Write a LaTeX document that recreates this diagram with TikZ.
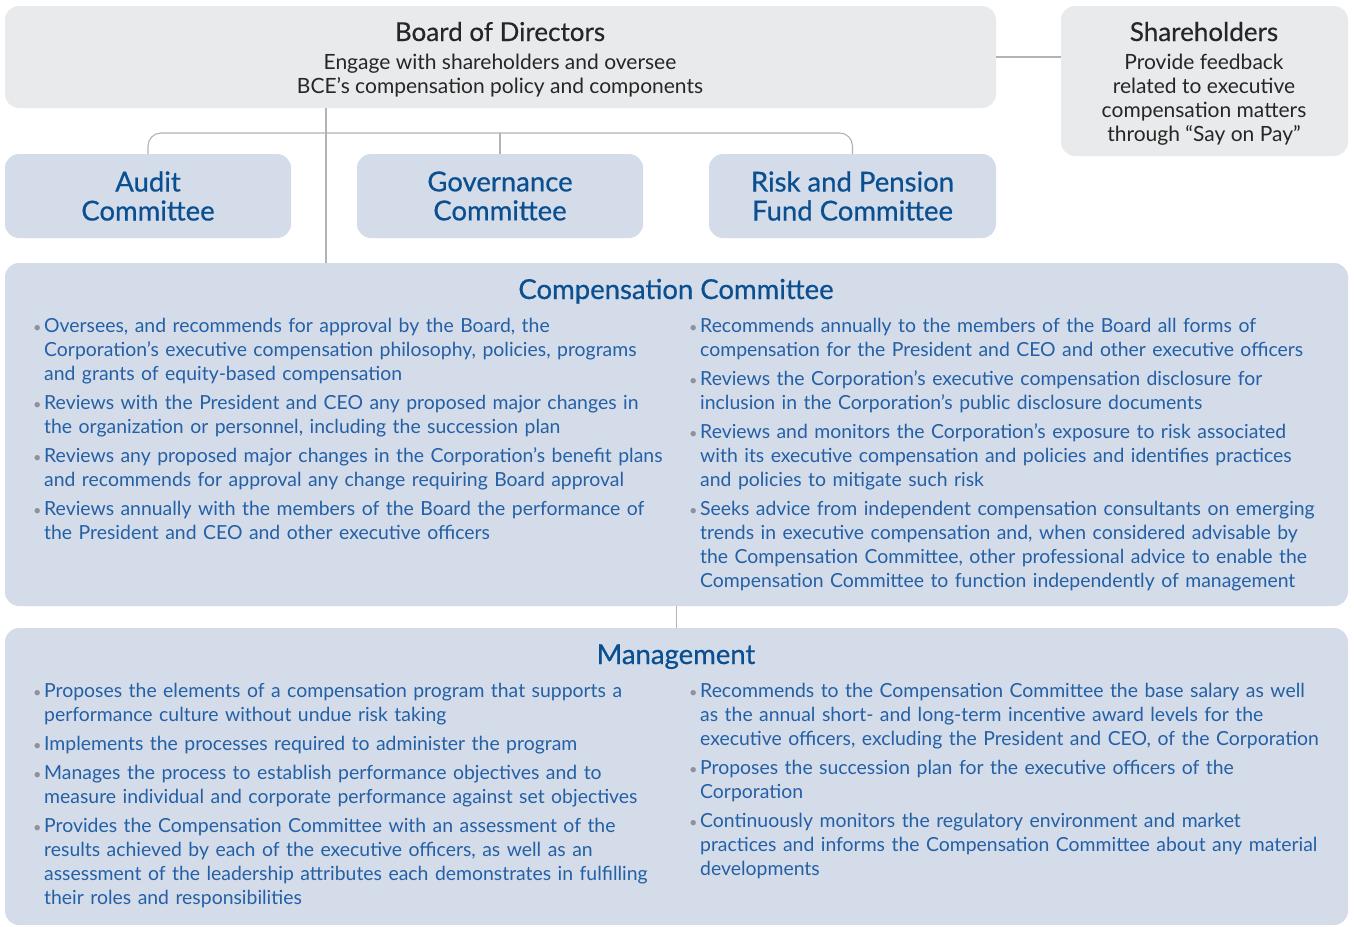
\documentclass[tikz,border=0pt]{standalone}
\usepackage{fontspec}
\setmainfont{Lato}
\definecolor{boardgray}{HTML}{E9EAEB}
\definecolor{panelblue}{HTML}{D4DCEA}
\definecolor{linegray}{HTML}{B3B3B3}
\definecolor{headblue}{HTML}{0A4F8F}
\definecolor{bodyblue}{HTML}{2360A5}
\definecolor{dotgray}{HTML}{8C939C}
\definecolor{inkgray}{HTML}{262626}

% one bullet point; the whole column is indented by \leftskip
\newcommand{\itm}[1]{\noindent\strut\llap{\makebox[11pt][l]{\hspace{0pt}\textcolor{dotgray}{\scalebox{0.75}{\textbullet}}}}#1\par}
\newcommand{\itmgap}{\vspace{5pt}}
\newcommand{\bodyfont}{\fontsize{19.4}{24}\selectfont}

\begin{document}
\begin{tikzpicture}[x=1pt,y=-1pt,
  boxbase/.style={rounded corners=14pt, inner sep=0pt, outer sep=0pt, anchor=north west},
  graybox/.style={boxbase, fill=boardgray},
  bluebox/.style={boxbase, fill=panelblue},
  link/.style={draw=linegray, line width=1.1pt},
  headtext/.style={font=\fontsize{27.5}{29}\selectfont\addfontfeatures{FakeBold=0.6}, text=headblue, align=center, inner sep=0pt},
  boardhead/.style={font=\fontsize{26}{28}\selectfont\addfontfeatures{FakeBold=0.4}, text=inkgray, align=center, inner sep=0pt},
  boardbody/.style={font=\fontsize{21}{24}\selectfont, text=inkgray, align=center, inner sep=0pt},
  column/.style={anchor=north west, inner sep=0pt, text width=660pt, text=bodyblue, font=\bodyfont}
]
\path[use as bounding box, fill=white] (0,0) rectangle (1354,926);

% boxes
\node[graybox, minimum width=991, minimum height=102] (board) at (5,6) {};
\node[graybox, minimum width=287, minimum height=150] (share) at (1061,6) {};
\node[bluebox, minimum width=286, minimum height=84] (audit) at (5,154) {};
\node[bluebox, minimum width=286, minimum height=84] (gov) at (357,154) {};
\node[bluebox, minimum width=287, minimum height=84] (risk) at (709,154) {};
\node[bluebox, minimum width=1343, minimum height=343] (comp) at (5,263) {};
\node[bluebox, minimum width=1343, minimum height=297] (mgmt) at (5,628) {};

% connectors
\coordinate (bar) at (500,133);
\coordinate (trunk) at (326,0);
\draw[link] (board.east) -- (board.east -| share.west);
\draw[link, rounded corners=13pt] (audit.north) |- (bar) -| (risk.north);
\draw[link] (gov.north) -- (gov.north |- bar);
\draw[link] (board.south -| trunk) -- (comp.north -| trunk);
\draw[link] (comp.south) -- (mgmt.north);

% board of directors
\node[boardhead, anchor=base] (boardt) at (500,41) {Board of Directors};
\node[boardbody, anchor=base] (boardb1) at (500,69) {Engage with shareholders and oversee};
\node[boardbody, anchor=base] (boardb2) at (500,93) {BCE’s compensation policy and components};

% shareholders
\node[boardhead, anchor=base] (sht) at (1204,41) {Shareholders};
\node[boardbody, anchor=base] (shb1) at (1204,69) {Provide feedback};
\node[boardbody, anchor=base] (shb2) at (1204,93) {related to executive};
\node[boardbody, anchor=base] (shb3) at (1204,117) {compensation matters};
\node[boardbody, anchor=base] (shb4) at (1204,141) {through “Say on Pay”};

% committees
\node[headtext] (auditt) at (audit.center) {Audit\\Committee};
\node[headtext] (govt) at (gov.center) {Governance\\Committee};
\node[headtext] (riskt) at (risk.center) {Risk and Pension\\Fund Committee};

% compensation committee
\node[headtext, anchor=base] (compt) at (676,299) {Compensation Committee};
\node[column] (compl) at (33,315.2) {\leftskip=11pt
\itm{Oversees, and recommends for approval by the Board, the\\Corporation’s executive compensation philosophy, policies, programs\\and grants of equity-based compensation}\itmgap
\itm{Reviews with the President and CEO any proposed major changes in\\the organization or personnel, including the succession plan}\itmgap
\itm{Reviews any proposed major changes in the Corporation’s benefit plans\\and recommends for approval any change requiring Board approval}\itmgap
\itm{Reviews annually with the members of the Board the performance of\\the President and CEO and other executive officers}};
\node[column] (compr) at (689,315.2) {\leftskip=11pt
\itm{Recommends annually to the members of the Board all forms of\\compensation for the President and CEO and other executive officers}\itmgap
\itm{Reviews the Corporation’s executive compensation disclosure for\\inclusion in the Corporation’s public disclosure documents}\itmgap
\itm{Reviews and monitors the Corporation’s exposure to risk associated\\with its executive compensation and policies and identifies practices\\and policies to mitigate such risk}\itmgap
\itm{Seeks advice from independent compensation consultants on emerging\\trends in executive compensation and, when considered advisable by\\the Compensation Committee, other professional advice to enable the\\Compensation Committee to function independently of management}};

% management
\node[headtext, anchor=base] (mgmtt) at (676,664) {Management};
\node[column] (mgmtl) at (33,680.2) {\leftskip=11pt
\itm{Proposes the elements of a compensation program that supports a\\performance culture without undue risk taking}\itmgap
\itm{Implements the processes required to administer the program}\itmgap
\itm{Manages the process to establish performance objectives and to\\measure individual and corporate performance against set objectives}\itmgap
\itm{Provides the Compensation Committee with an assessment of the\\results achieved by each of the executive officers, as well as an\\assessment of the leadership attributes each demonstrates in fulfilling\\their roles and responsibilities}};
\node[column] (mgmtr) at (689,680.2) {\leftskip=11pt
\itm{Recommends to the Compensation Committee the base salary as well\\as the annual short- and long-term incentive award levels for the\\executive officers, excluding the President and CEO, of the Corporation}\itmgap
\itm{Proposes the succession plan for the executive officers of the\\Corporation}\itmgap
\itm{Continuously monitors the regulatory environment and market\\practices and informs the Compensation Committee about any material\\developments}};
\end{tikzpicture}
\end{document}
